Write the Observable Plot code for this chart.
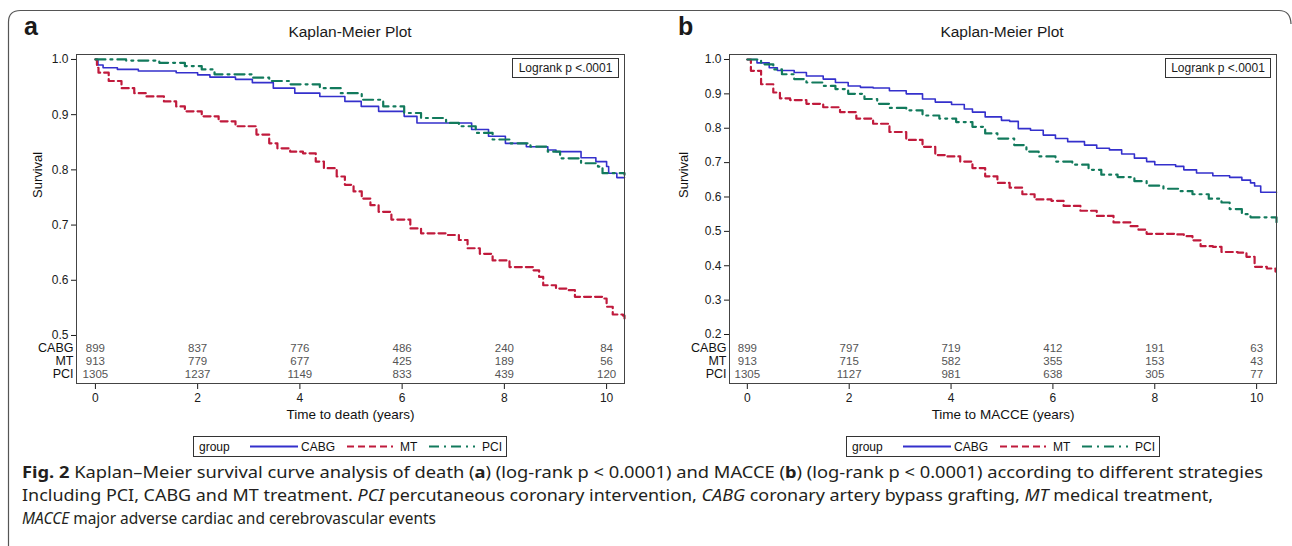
<!DOCTYPE html>
<html><head><meta charset="utf-8">
<script src="https://cdn.jsdelivr.net/npm/d3@7"></script>
<script src="https://cdn.jsdelivr.net/npm/@observablehq/plot@0.6"></script>
<style>
body{margin:0;background:#fff;}
#fig{position:relative;width:1292px;height:546px;overflow:hidden;font-family:"Liberation Sans",Arial,sans-serif;color:#1a1a1a;}
.title{position:absolute;top:23px;font-size:15.5px;transform:translateX(-50%);white-space:nowrap;}
.letter{position:absolute;top:12px;font-size:25px;font-weight:bold;}
.logrank{position:absolute;border:1px solid #333;font-size:12px;box-sizing:border-box;display:flex;align-items:center;justify-content:center;background:#fff;white-space:nowrap;}
</style></head>
<body><div id="fig"></div>
<script>
// ---------- data ----------
const groups = ["CABG", "MT", "PCI"];
const riskTimes = [0, 2, 4, 6, 8, 10];
const deathTicks = [0.5, 0.6, 0.7, 0.8, 0.9, 1.0];
const macceTicks = [0.2, 0.3, 0.4, 0.5, 0.6, 0.7, 0.8, 0.9, 1.0];

// Panel a: time to death (years, survival)
const deathCABG = [[0,1.0],[0.05,0.99],[0.15,0.985],[0.43,0.982],[0.84,0.979],[1.58,0.976],[2.0,0.972],[2.24,0.968],[2.74,0.964],[3.07,0.958],[3.48,0.948],[3.9,0.939],[4.39,0.933],[4.88,0.924],[5.2,0.915],[5.54,0.906],[6.04,0.897],[6.29,0.885],[7.03,0.885],[7.36,0.873],[7.69,0.861],[8.02,0.848],[8.43,0.842],[8.85,0.836],[9.01,0.833],[9.5,0.822],[9.79,0.815],[10.0,0.806],[10.04,0.794],[10.2,0.786],[10.35,0.786]];
const deathMT = [[0,1.0],[0.03,0.985],[0.06,0.976],[0.26,0.961],[0.51,0.948],[0.76,0.939],[1.0,0.933],[1.34,0.924],[1.58,0.915],[1.75,0.906],[2.08,0.897],[2.41,0.888],[2.74,0.879],[3.15,0.864],[3.4,0.848],[3.56,0.839],[3.81,0.833],[4.06,0.83],[4.31,0.815],[4.47,0.803],[4.72,0.788],[4.88,0.773],[5.05,0.761],[5.21,0.748],[5.38,0.736],[5.54,0.724],[5.79,0.71],[6.16,0.694],[6.37,0.685],[6.86,0.682],[7.11,0.673],[7.28,0.658],[7.52,0.648],[7.77,0.636],[8.1,0.624],[8.56,0.618],[8.68,0.606],[8.76,0.591],[9.01,0.585],[9.26,0.582],[9.38,0.57],[9.92,0.567],[10.0,0.552],[10.12,0.538],[10.32,0.536],[10.35,0.527]];
const deathPCI = [[0,1.0],[0.6,0.998],[1.25,0.994],[1.75,0.988],[2.08,0.982],[2.33,0.973],[3.07,0.967],[3.4,0.961],[3.81,0.955],[4.39,0.948],[4.8,0.939],[5.21,0.927],[5.63,0.915],[6.04,0.903],[6.37,0.894],[6.86,0.885],[7.11,0.879],[7.44,0.867],[7.77,0.855],[8.1,0.848],[8.51,0.842],[8.85,0.833],[9.09,0.821],[9.5,0.812],[9.83,0.806],[9.92,0.794],[10.35,0.791]];
const deathRiskCABG = [899, 837, 776, 486, 240, 84];
const deathRiskMT = [913, 779, 677, 425, 189, 56];
const deathRiskPCI = [1305, 1237, 1149, 833, 439, 120];

// Panel b: time to MACCE
const macceCABG = [[0,1],[0.19,0.99],[0.43,0.976],[0.59,0.968],[0.92,0.962],[1.16,0.952],[1.49,0.943],[1.73,0.933],[1.98,0.923],[2.22,0.919],[2.47,0.917],[2.79,0.909],[3.12,0.9],[3.44,0.885],[3.69,0.876],[4.01,0.869],[4.26,0.856],[4.42,0.847],[4.67,0.833],[4.99,0.823],[5.15,0.82],[5.32,0.799],[5.56,0.794],[5.81,0.78],[6.05,0.77],[6.29,0.761],[6.62,0.751],[6.86,0.742],[7.11,0.737],[7.35,0.725],[7.6,0.713],[7.84,0.703],[8.0,0.694],[8.41,0.689],[8.57,0.679],[8.82,0.67],[9.14,0.662],[9.47,0.657],[9.71,0.649],[9.88,0.641],[9.96,0.632],[10.08,0.614],[10.39,0.614]];
const macceMT = [[0,1],[0.07,0.967],[0.27,0.928],[0.51,0.904],[0.64,0.887],[0.84,0.882],[1.16,0.871],[1.49,0.861],[1.82,0.847],[2.14,0.828],[2.47,0.813],[2.79,0.789],[3.12,0.766],[3.44,0.746],[3.69,0.722],[3.93,0.718],[4.18,0.703],[4.42,0.684],[4.67,0.66],[4.91,0.641],[5.15,0.627],[5.4,0.608],[5.64,0.593],[5.97,0.589],[6.21,0.574],[6.54,0.56],[6.86,0.545],[7.19,0.526],[7.52,0.515],[7.68,0.505],[7.84,0.493],[8.41,0.491],[8.57,0.486],[8.74,0.474],[8.9,0.457],[9.14,0.455],[9.31,0.44],[9.63,0.438],[9.8,0.426],[9.96,0.397],[10.2,0.392],[10.37,0.383]];
const maccePCI = [[0,1],[0.27,0.986],[0.51,0.971],[0.68,0.957],[0.92,0.943],[1.16,0.933],[1.49,0.923],[1.73,0.914],[1.98,0.9],[2.3,0.885],[2.55,0.871],[2.79,0.859],[3.12,0.852],[3.44,0.837],[3.77,0.828],[4.1,0.818],[4.42,0.804],[4.67,0.785],[4.91,0.77],[5.24,0.751],[5.48,0.732],[5.72,0.718],[6.05,0.703],[6.38,0.694],[6.7,0.679],[6.95,0.665],[7.27,0.658],[7.6,0.646],[7.84,0.633],[8.17,0.624],[8.49,0.617],[8.74,0.608],[9.06,0.595],[9.31,0.584],[9.47,0.565],[9.71,0.55],[9.88,0.541],[10.37,0.541],[10.39,0.526]];
const macceRiskCABG = [899, 797, 719, 412, 191, 63];
const macceRiskMT = [913, 715, 582, 355, 153, 43];
const macceRiskPCI = [1305, 1127, 981, 638, 305, 77];

// ---------- styles ----------
const colors = {CABG: "#3430cc", MT: "#c01a3c", PCI: "#127a5c"};
const dashes = {CABG: null, MT: "7,4", PCI: "10,5,2,5"};
const widths = {CABG: 1.6, MT: 2.2, PCI: 2.2};
const riskDy = [-32, -19, -6];

function panel({curves, risks, xDomain, yDomain, yTicks, width, marginLeft, xLabel, survDx}) {
  const marks = [];
  groups.forEach((g, i) => {
    marks.push(Plot.line(curves[i], {x: d => d[0], y: d => d[1], stroke: colors[g],
      strokeWidth: widths[g], strokeDasharray: dashes[g], curve: "step-after"}));
  });
  groups.forEach((g, i) => {
    marks.push(Plot.text(riskTimes, {x: d => d, text: (d, j) => String(risks[i][j]),
      frameAnchor: "bottom", dy: riskDy[i], fill: "#555", fontSize: 11.5}));
    marks.push(Plot.text([g], {text: d => d, frameAnchor: "bottom-left", dx: -3, dy: riskDy[i],
      textAnchor: "end", fill: "#111", fontSize: 12.5}));
  });
  marks.push(Plot.frame({stroke: "#444"}));
  marks.push(Plot.text([xLabel], {text: d => d, frameAnchor: "bottom", dy: 35, fontSize: 13.5, fill: "#111"}));
  marks.push(Plot.text(["Survival"], {text: d => d, frameAnchor: "left", rotate: -90, dx: survDx, dy: -21, fontSize: 13, fill: "#111"}));
  return Plot.plot({
    width, height: 430, marginLeft, marginRight: 16, marginTop: 54, marginBottom: 47,
    style: {fontFamily: "Liberation Sans, Arial, sans-serif", fontSize: "12px", color: "#1a1a1a", background: "transparent"},
    x: {domain: xDomain, ticks: riskTimes, tickFormat: "d", tickSize: 6, tickPadding: 4, label: null},
    y: {domain: yDomain, ticks: yTicks, tickFormat: ".1f", tickSize: 5, tickPadding: 3, label: null},
    marks
  });
}

const fig = document.getElementById("fig");

const pa = panel({curves: [deathCABG, deathMT, deathPCI], risks: [deathRiskCABG, deathRiskMT, deathRiskPCI],
  xDomain: [-0.37, 10.35], yDomain: [0.413, 1.009], yTicks: deathTicks, width: 640, marginLeft: 76,
  xLabel: "Time to death (years)", survDx: -39});
pa.style.position = "absolute"; pa.style.left = "0px"; pa.style.top = "0px";
fig.appendChild(pa);

const pb = panel({curves: [macceCABG, macceMT, maccePCI], risks: [macceRiskCABG, macceRiskMT, macceRiskPCI],
  xDomain: [-0.35, 10.39], yDomain: [0.0575, 1.0145], yTicks: macceTicks, width: 652, marginLeft: 89,
  xLabel: "Time to MACCE (years)", survDx: -46});
pb.style.position = "absolute"; pb.style.left = "640px"; pb.style.top = "0px";
fig.appendChild(pb);

function legend(left) {
  const items = [
    {g: "CABG", x1: 57, x2: 105, tx: 108},
    {g: "MT", x1: 154, x2: 200, tx: 207},
    {g: "PCI", x1: 236, x2: 282, tx: 289}
  ];
  let s = `<svg width="315" height="22" style="position:absolute;left:${left}px;top:436px;font-family:Liberation Sans,Arial,sans-serif">`;
  s += `<rect x="0.5" y="0.5" width="313" height="20" fill="#fff" stroke="#333"/>`;
  s += `<text x="6" y="15" font-size="12" fill="#111">group</text>`;
  for (const it of items) {
    s += `<line x1="${it.x1}" x2="${it.x2}" y1="10.5" y2="10.5" stroke="${colors[it.g]}" stroke-width="2" ${dashes[it.g] ? `stroke-dasharray="${dashes[it.g]}"` : ""}/>`;
    s += `<text x="${it.tx}" y="15" font-size="12" fill="#111">${it.g}</text>`;
  }
  s += `</svg>`;
  return s;
}

fig.insertAdjacentHTML("beforeend", `
  <div class="letter" style="left:24px">a</div>
  <div class="title" style="left:350px">Kaplan-Meier Plot</div>
  <div class="logrank" style="left:512px;top:58px;width:107px;height:20px">Logrank p &lt;.0001</div>
  <div class="letter" style="left:678px">b</div>
  <div class="title" style="left:1002px">Kaplan-Meier Plot</div>
  <div class="logrank" style="left:1165px;top:58px;width:106px;height:20px">Logrank p &lt;.0001</div>
  ${legend(193)}
  ${legend(846)}
  <svg width="1292" height="91" style="position:absolute;left:0;top:455px;font-family:'Liberation Sans Narrow','Noto Sans','Open Sans',sans-serif" xml:space="preserve">
    <text x="22" y="23" font-size="16.5" fill="#231f20" textLength="1241" lengthAdjust="spacingAndGlyphs"><tspan font-weight="bold">Fig. 2</tspan>  Kaplan–Meier survival curve analysis of death (<tspan font-weight="bold">a</tspan>) (log-rank p &lt; 0.0001) and MACCE (<tspan font-weight="bold">b</tspan>) (log-rank p &lt; 0.0001) according to different strategies</text>
    <text x="22" y="46" font-size="16.5" fill="#231f20" textLength="1191" lengthAdjust="spacingAndGlyphs">Including PCI, CABG and MT treatment. <tspan font-style="italic">PCI</tspan> percutaneous coronary intervention, <tspan font-style="italic">CABG</tspan> coronary artery bypass grafting, <tspan font-style="italic">MT</tspan>  medical treatment,</text>
    <text x="22" y="69" font-size="16.5" fill="#231f20" textLength="414" lengthAdjust="spacingAndGlyphs"><tspan font-style="italic">MACCE</tspan>  major adverse cardiac and cerebrovascular events</text>
  </svg>
  <svg width="1292" height="546" style="position:absolute;left:0;top:0;pointer-events:none">
    <path d="M8.5 546 V22 Q8.5 10.5 20.5 10.5 H1279 Q1290.5 10.5 1291 24" fill="none" stroke="#555" stroke-width="1.2"/>
  </svg>
`);
</script>
</body></html>
